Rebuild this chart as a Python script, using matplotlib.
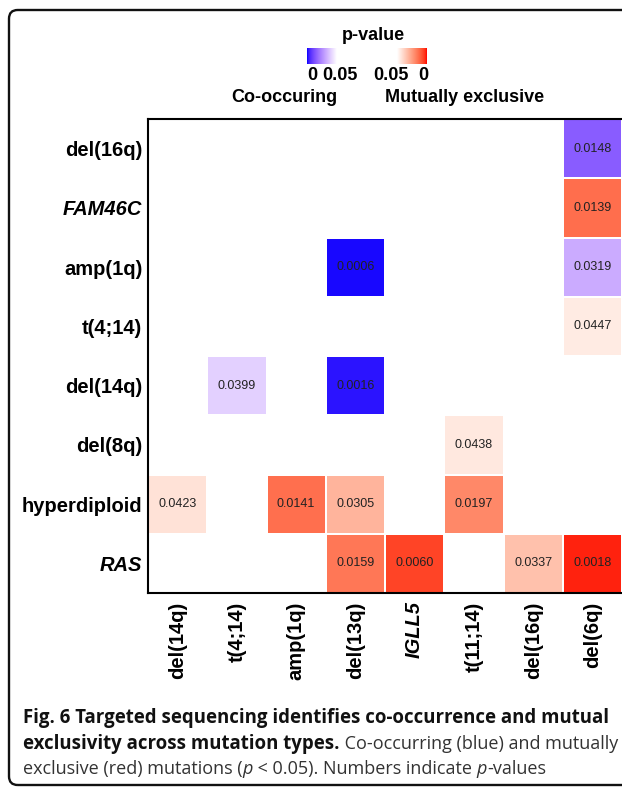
import numpy as np
import matplotlib
matplotlib.use("Agg")
import matplotlib.pyplot as plt
from matplotlib.colors import ListedColormap, Normalize
from matplotlib.patches import FancyBboxPatch

# Data
row_labels = ["del(16q)", "FAM46C", "amp(1q)", "t(4;14)", "del(14q)", "del(8q)", "hyperdiploid", "RAS"]
col_labels = ["del(14q)", "t(4;14)", "amp(1q)", "del(13q)", "IGLL5", "t(11;14)", "del(16q)", "del(6q)"]
italic_labels = ["FAM46C", "RAS", "IGLL5"]

# co-occurring pairs (blue)
co_rows = ["del(16q)", "amp(1q)", "amp(1q)", "del(14q)", "del(14q)"]
co_cols = ["del(6q)", "del(13q)", "del(6q)", "t(4;14)", "del(13q)"]
co_p = [0.0148, 0.0006, 0.0319, 0.0399, 0.0016]

# mutually exclusive pairs (red)
ex_rows = ["FAM46C", "t(4;14)", "del(8q)", "hyperdiploid", "hyperdiploid",
           "hyperdiploid", "hyperdiploid", "RAS", "RAS", "RAS", "RAS"]
ex_cols = ["del(6q)", "del(6q)", "t(11;14)", "del(14q)", "amp(1q)",
           "del(13q)", "t(11;14)", "del(13q)", "IGLL5", "del(16q)", "del(6q)"]
ex_p = [0.0139, 0.0447, 0.0438, 0.0423, 0.0141, 0.0305, 0.0197, 0.0159, 0.0060, 0.0337, 0.0018]

p_max = 0.05


def srgb_to_lab(rgb):
    c = np.asarray(rgb, float) / 255.0
    c = np.where(c > 0.04045, ((c + 0.055) / 1.055) ** 2.4, c / 12.92)
    m = np.array([[0.4124, 0.3576, 0.1805],
                  [0.2126, 0.7152, 0.0722],
                  [0.0193, 0.1192, 0.9505]])
    xyz = m @ c / np.array([0.95047, 1.0, 1.08883])
    f = np.where(xyz > 0.008856, np.cbrt(xyz), 7.787 * xyz + 16 / 116)
    return np.array([116 * f[1] - 16, 500 * (f[0] - f[1]), 200 * (f[1] - f[2])])


def lab_to_srgb(lab):
    L, a, b = lab
    fy = (L + 16) / 116
    fx = fy + a / 500
    fz = fy - b / 200
    f = np.array([fx, fy, fz])
    xyz = np.where(f > 0.2069, f ** 3, (f - 16 / 116) / 7.787) * np.array([0.95047, 1.0, 1.08883])
    minv = np.array([[3.2406, -1.5372, -0.4986],
                     [-0.9689, 1.8758, 0.0415],
                     [0.0557, -0.2040, 1.0570]])
    c = minv @ xyz
    c = np.where(c > 0.0031308, 1.055 * np.clip(c, 0, None) ** (1 / 2.4) - 0.055, 12.92 * c)
    return np.clip(c, 0, 1)


def lab_ramp(c0, c1, n=256):
    # interpolate in Lab space, like the original heatmap colour ramp
    l0, l1 = srgb_to_lab(c0), srgb_to_lab(c1)
    cols = [lab_to_srgb(l0 + (l1 - l0) * t) for t in np.linspace(0, 1, n)]
    return ListedColormap(cols)


blue_cmap = lab_ramp((0, 0, 255), (255, 255, 255))
red_cmap = lab_ramp((255, 0, 0), (255, 255, 255))
norm = Normalize(vmin=0, vmax=p_max)


def to_matrix(rs, cs, ps):
    m = np.full((len(row_labels), len(col_labels)), np.nan)
    for r, c, p in zip(rs, cs, ps):
        m[row_labels.index(r), col_labels.index(c)] = p
    return np.ma.masked_invalid(m)


co_mat = to_matrix(co_rows, co_cols, co_p)
ex_mat = to_matrix(ex_rows, ex_cols, ex_p)

W, H = 622, 787
fig = plt.figure(figsize=(W / 100, H / 100), dpi=100)

# rounded frame (cut off on the right)
frame = FancyBboxPatch((9 / W, 1 - 785 / H), 700 / W, 775 / H,
                       boxstyle="round,pad=0,rounding_size=0.014",
                       transform=fig.transFigure, fill=False, lw=1.7, ec="#111",
                       mutation_aspect=W / H, clip_on=False)
fig.add_artist(frame)

ax = fig.add_axes([148 / W, 1 - 593 / H, 474 / W, 474 / H])
x_edges = np.arange(len(col_labels) + 1)
y_edges = np.arange(len(row_labels) + 1)
ax.pcolormesh(x_edges, y_edges, co_mat, cmap=blue_cmap, norm=norm, edgecolors="white", linewidth=0.35)
ax.pcolormesh(x_edges, y_edges, ex_mat, cmap=red_cmap, norm=norm, edgecolors="white", linewidth=0.35)
ax.set_xlim(0, len(col_labels))
ax.set_ylim(len(row_labels), 0)

for mat in (co_mat, ex_mat):
    for i in range(mat.shape[0]):
        for j in range(mat.shape[1]):
            if not np.ma.is_masked(mat[i, j]):
                ax.text(j + 0.5, i + 0.5, f"{mat[i, j]:.4f}", ha="center", va="center",
                        fontsize=9, color="#222", family="Liberation Sans")

ax.set_xticks(np.arange(len(col_labels)) + 0.5)
ax.set_yticks(np.arange(len(row_labels)) + 0.5)
ax.set_xticklabels(col_labels, rotation=90, fontsize=14.5, fontweight="bold", family="Liberation Sans")
ax.set_yticklabels(row_labels, fontsize=14.5, fontweight="bold", family="Liberation Sans")
for lab in ax.get_xticklabels() + ax.get_yticklabels():
    if lab.get_text() in italic_labels:
        lab.set_style("italic")
ax.tick_params(axis="x", length=0, pad=6)
ax.tick_params(axis="y", length=0, pad=4)
ax.spines["right"].set_visible(False)
for s in ("left", "top", "bottom"):
    ax.spines[s].set_linewidth(1.5)

# legend
grad = np.linspace(0, p_max, 100).reshape(1, -1)
cax1 = fig.add_axes([307 / W, 1 - 64 / H, 30 / W, 16 / H])
cax1.imshow(grad, cmap=blue_cmap, norm=norm, aspect="auto")
cax2 = fig.add_axes([397 / W, 1 - 64 / H, 30 / W, 16 / H])
cax2.imshow(grad[:, ::-1], cmap=red_cmap, norm=norm, aspect="auto")
for c in (cax1, cax2):
    c.set_axis_off()

lfont = dict(fontsize=13, fontweight="bold", family="Liberation Sans", ha="center", va="center")
fig.text(373 / W, 1 - 36 / H, "p-value", **lfont)
fig.text(312 / W, 1 - 75 / H, "0", **lfont)
fig.text(340 / W, 1 - 75 / H, "0.05", **lfont)
fig.text(391 / W, 1 - 75 / H, "0.05", **lfont)
fig.text(423 / W, 1 - 75 / H, "0", **lfont)
fig.text(284 / W, 1 - 97 / H, "Co-occuring", **lfont)
fig.text(465 / W, 1 - 97 / H, "Mutually exclusive", **lfont)

# caption, placed piece by piece
renderer = fig.canvas.get_renderer()
cap_lines = [
    [("Fig. 6 Targeted sequencing identifies co-occurrence and mutual", "bold", "normal")],
    [("exclusivity across mutation types.", "bold", "normal"),
     (" Co-occurring (blue) and mutually", "normal", "normal")],
    [("exclusive (red) mutations (", "normal", "normal"), ("p", "normal", "italic"),
     (" < 0.05). Numbers indicate ", "normal", "normal"), ("p", "normal", "italic"),
     ("-values", "normal", "normal")],
]
baselines = [723, 749, 774]
for pieces, base in zip(cap_lines, baselines):
    x = 23
    for txt, weight, style in pieces:
        if weight == "bold":
            kw = dict(fontsize=13.4, color="#111")
        else:
            kw = dict(fontsize=13.0, color="#333")
        t = fig.text(x / W, 1 - base / H, txt, family="Open Sans", fontweight=weight,
                     style=style, va="baseline", ha="left", **kw)
        bb = t.get_window_extent(renderer)
        x = bb.x1

fig.savefig("out.png", dpi=100)
